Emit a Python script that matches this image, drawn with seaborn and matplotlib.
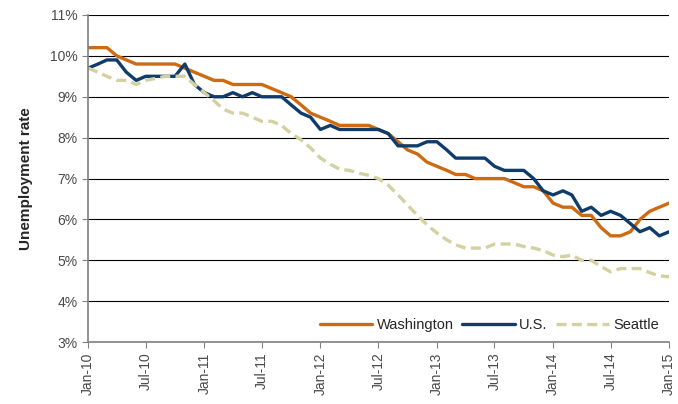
import pandas as pd
import matplotlib.pyplot as plt
import matplotlib.dates as mdates
import seaborn as sns

months = pd.date_range('2010-01-01', '2015-01-01', freq='MS')

washington = [10.2, 10.2, 10.2, 10.0, 9.9, 9.8, 9.8, 9.8, 9.8, 9.8, 9.7, 9.6,
              9.5, 9.4, 9.4, 9.3, 9.3, 9.3, 9.3, 9.2, 9.1, 9.0, 8.8, 8.6,
              8.5, 8.4, 8.3, 8.3, 8.3, 8.3, 8.2, 8.1, 7.9, 7.7, 7.6, 7.4,
              7.3, 7.2, 7.1, 7.1, 7.0, 7.0, 7.0, 7.0, 6.9, 6.8, 6.8, 6.7,
              6.4, 6.3, 6.3, 6.1, 6.1, 5.8, 5.6, 5.6, 5.7, 6.0, 6.2, 6.3,
              6.4]
us = [9.7, 9.8, 9.9, 9.9, 9.6, 9.4, 9.5, 9.5, 9.5, 9.5, 9.8, 9.3,
      9.1, 9.0, 9.0, 9.1, 9.0, 9.1, 9.0, 9.0, 9.0, 8.8, 8.6, 8.5,
      8.2, 8.3, 8.2, 8.2, 8.2, 8.2, 8.2, 8.1, 7.8, 7.8, 7.8, 7.9,
      7.9, 7.7, 7.5, 7.5, 7.5, 7.5, 7.3, 7.2, 7.2, 7.2, 7.0, 6.7,
      6.6, 6.7, 6.6, 6.2, 6.3, 6.1, 6.2, 6.1, 5.9, 5.7, 5.8, 5.6,
      5.7]
seattle = [9.7, 9.6, 9.5, 9.4, 9.4, 9.3, 9.4, 9.45, 9.5, 9.5, 9.5, 9.3,
           9.1, 8.9, 8.7, 8.6, 8.6, 8.5, 8.4, 8.4, 8.3, 8.1, 7.95, 7.75,
           7.5, 7.35, 7.23, 7.2, 7.13, 7.08, 7.0, 6.84, 6.6, 6.35, 6.1, 5.87,
           5.67, 5.5, 5.38, 5.3, 5.3, 5.3, 5.4, 5.4, 5.4, 5.34, 5.3, 5.24,
           5.13, 5.09, 5.13, 5.0, 5.0, 4.85, 4.72, 4.8, 4.8, 4.8, 4.7, 4.62,
           4.6]

series = {'Washington': washington, 'U.S.': us, 'Seattle': seattle}
colors = {'Washington': '#CD6A12', 'U.S.': '#0F3C6B', 'Seattle': '#D3D1A2'}

df = pd.DataFrame({'month': list(months) * 3,
                   'rate': washington + us + seattle,
                   'area': [k for k in series for _ in months]})

sns.set_style('white')
plt.rcParams['font.family'] = ['Liberation Sans', 'DejaVu Sans']

fig, ax = plt.subplots(figsize=(6.78, 4.04), dpi=100)
fig.subplots_adjust(left=0.13, right=0.987, top=0.963, bottom=0.153)

sns.lineplot(data=df, x='month', y='rate', hue='area', style='area',
             palette=colors, dashes={'Washington': '', 'U.S.': '', 'Seattle': (3, 1.6)},
             linewidth=2.4, ax=ax)

ax.set_ylim(3, 11)
ax.set_yticks(range(3, 12))
ax.set_yticklabels([f'{v}%' for v in range(3, 12)])
ax.set_xlim(months[0], months[-1])
ax.set_xticks(pd.date_range('2010-01-01', '2015-01-01', freq='6MS'))
ax.xaxis.set_major_formatter(mdates.DateFormatter('%b-%y'))
ax.tick_params(axis='x', rotation=90)
ax.tick_params(axis='both', labelsize=10, labelcolor='#4a4a4a', length=4,
               color='#808080', direction='out', bottom=True, left=True)

ax.grid(axis='y', color='black', linewidth=0.8)
ax.set_axisbelow(True)
for s in ['top', 'right']:
    ax.spines[s].set_visible(False)
for s in ['left', 'bottom']:
    ax.spines[s].set_color('#808080')
    ax.spines[s].set_linewidth(1.2)

ax.set_xlabel('')
ax.set_ylabel('Unemployment rate', fontsize=11, fontweight='bold', labelpad=12)

ax.legend(loc='lower right', ncol=3, frameon=False, fontsize=10.5,
          handlelength=3.6, columnspacing=0.6, handletextpad=0.3,
          bbox_to_anchor=(1.0, 0.0), borderaxespad=0.3)

plt.savefig('out.png')
